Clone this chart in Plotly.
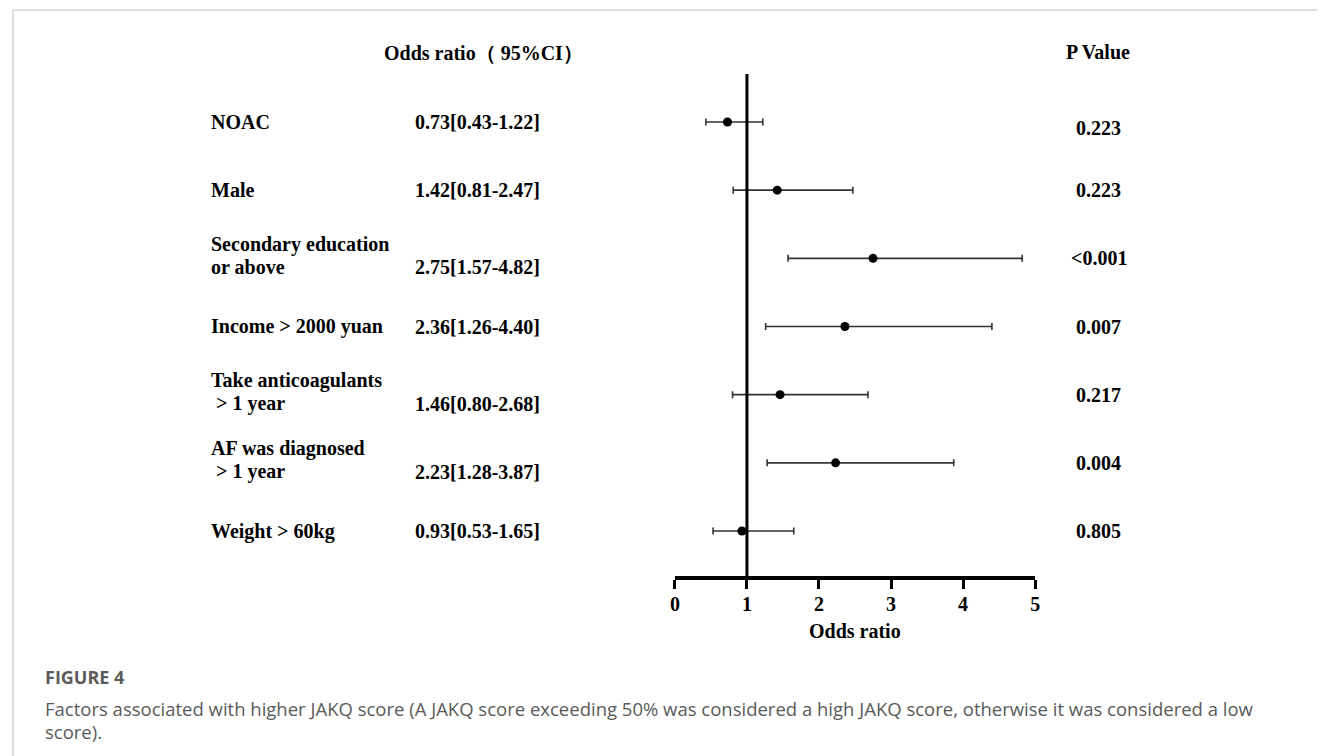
import plotly.graph_objects as go

# ---------------- data ----------------
factors = [
    ["NOAC"],
    ["Male"],
    ["Secondary education", "or above"],
    ["Income > 2000 yuan"],
    ["Take anticoagulants", " > 1 year"],
    ["AF was diagnosed", " > 1 year"],
    ["Weight > 60kg"],
]
odds_ratio = [0.73, 1.42, 2.75, 2.36, 1.46, 2.23, 0.93]
ci_low = [0.43, 0.81, 1.57, 1.26, 0.80, 1.28, 0.53]
ci_high = [1.22, 2.47, 4.82, 4.40, 2.68, 3.87, 1.65]
p_values = ["0.223", "0.223", "<0.001", "0.007", "0.217", "0.004", "0.805"]
x_ticks = [0, 1, 2, 3, 4, 5]

caption_title = "FIGURE 4"
caption_lines = [
    "Factors associated with higher JAKQ score (A JAKQ score exceeding 50% was considered a high JAKQ score, otherwise it was considered a low",
    "score).",
]

# ---------------- layout constants ----------------
W, H = 1322, 756
SERIF = "Liberation Serif, Times New Roman, serif"
CAP_FONT = "Open Sans, Noto Sans, sans-serif"
CAP_COLOR = "#5a5a5a"
n = len(factors)
rows = list(range(n, 0, -1))  # top row = n


def px(xp):
    return xp / W


def py(yp):
    return 1 - yp / H


ci_text = [f"{o:.2f}[{l:.2f}-{h:.2f}]" for o, l, h in zip(odds_ratio, ci_low, ci_high)]

fig = go.Figure()
fig.add_trace(go.Scatter(
    x=odds_ratio, y=rows, mode="markers",
    marker=dict(color="black", size=9),
    error_x=dict(type="data", symmetric=False,
                 array=[h - o for o, h in zip(odds_ratio, ci_high)],
                 arrayminus=[o - l for o, l in zip(odds_ratio, ci_low)],
                 color="#333333", thickness=1.6, width=3.5),
    showlegend=False, hoverinfo="skip",
))


def serif_note(x, y, text, xanchor="left", yshift=0, xref="paper", yref="y"):
    return dict(x=x, y=y, xref=xref, yref=yref, text=f"<b>{text}</b>",
                xanchor=xanchor, yanchor="middle", showarrow=False, yshift=yshift,
                font=dict(family=SERIF, size=20, color="black"))


annotations = []
LABEL_X = px(206)
CI_X = px(411)
P_X = px(1102)
LINE1_SHIFT = 14
LINE2_SHIFT = -9
for r, lines, ci, p in zip(rows, factors, ci_text, p_values):
    if len(lines) == 1:
        annotations.append(serif_note(LABEL_X, r, lines[0]))
        ci_shift = 0
    else:
        annotations.append(serif_note(LABEL_X, r, lines[0], yshift=LINE1_SHIFT))
        annotations.append(serif_note(LABEL_X, r, lines[1], yshift=LINE2_SHIFT))
        ci_shift = LINE2_SHIFT
    annotations.append(serif_note(CI_X, r, ci, yshift=ci_shift))
    annotations.append(serif_note(P_X, r, p, xanchor="center", yshift=-6 if r == n else 0))

# headers
annotations.append(serif_note(px(482), py(53), "Odds ratio（ 95%CI）", xanchor="center", yref="paper"))
annotations.append(serif_note(px(1101), py(52), "P Value", xanchor="center", yref="paper"))
# axis title
annotations.append(serif_note(px(856.5), py(631), "Odds ratio", xanchor="center", yref="paper"))
# caption
annotations.append(dict(x=px(38), y=py(677), xref="paper", yref="paper",
                        text=f"<b>{caption_title}</b>", xanchor="left", yanchor="middle",
                        showarrow=False, font=dict(family=CAP_FONT, size=18, color=CAP_COLOR)))
for line, ypix in zip(caption_lines, [708, 731]):
    annotations.append(dict(x=px(38), y=py(ypix), xref="paper", yref="paper",
                            text=line, xanchor="left", yanchor="middle",
                            showarrow=False, font=dict(family=CAP_FONT, size=18.5, color=CAP_COLOR)))

shapes = [
    # reference line at OR = 1
    dict(type="line", xref="x", yref="y domain", x0=1, x1=1, y0=0, y1=1,
         line=dict(color="black", width=3)),
    # card frame
    dict(type="line", xref="paper", yref="paper", x0=px(8), x1=1, y0=py(10), y1=py(10),
         line=dict(color="#dcdcdc", width=2)),
    dict(type="line", xref="paper", yref="paper", x0=px(8), x1=px(8), y0=0, y1=py(10),
         line=dict(color="#dcdcdc", width=2)),
]

fig.update_layout(
    width=W, height=H, autosize=False,
    margin=dict(l=0, r=0, t=0, b=0),
    paper_bgcolor="white", plot_bgcolor="white",
    xaxis=dict(domain=[px(675), px(1038)], range=[0, 5], tickvals=x_ticks,
               showline=True, linecolor="black", linewidth=4,
               ticks="outside", ticklen=9, tickwidth=3, tickcolor="black",
               tickfont=dict(family=SERIF, size=20, color="black", weight="bold"),
               ticklabelstandoff=-2,
               showgrid=False, zeroline=False, fixedrange=True),
    yaxis=dict(domain=[py(576), py(74)], range=[0.34, n + 0.704], visible=False,
               showgrid=False, zeroline=False, fixedrange=True),
    annotations=annotations,
    shapes=shapes,
)

fig.write_html("out.html", config={"displayModeBar": False},
               post_script="document.body.style.margin='0';document.body.style.overflow='hidden';")
